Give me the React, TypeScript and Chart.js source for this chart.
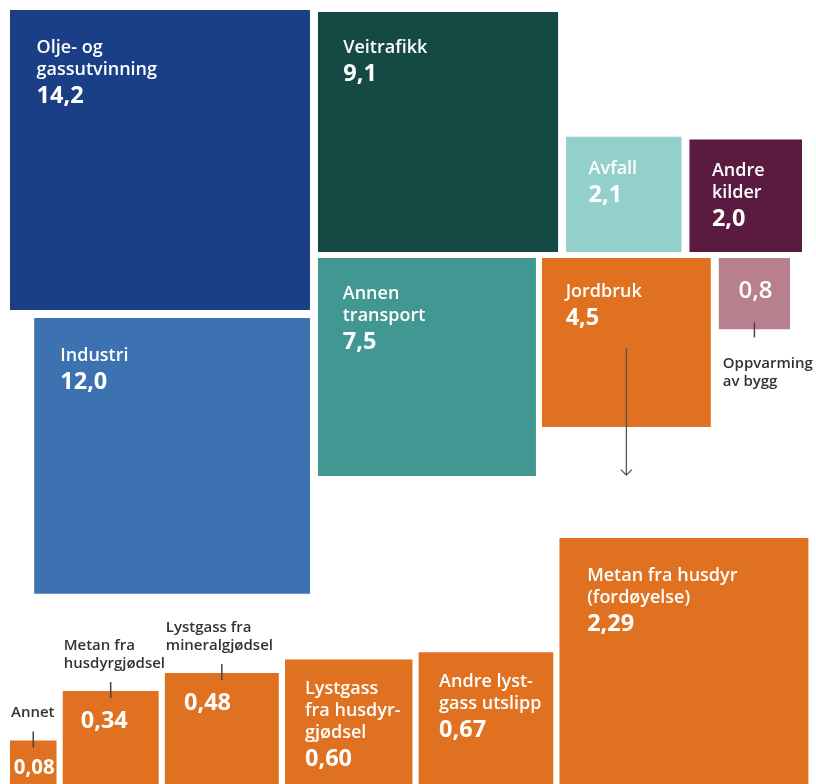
import React, { useEffect, useRef } from "react";
import { Chart, registerables } from "chart.js";

Chart.register(...registerables);

// ---------- data ----------
const sectorNames: string[][] = [
  ["Olje- og", "gassutvinning"],
  ["Industri"],
  ["Veitrafikk"],
  ["Annen", "transport"],
  ["Avfall"],
  ["Andre", "kilder"],
  ["Jordbruk"],
  ["Oppvarming", "av bygg"],
];
const sectorValues: number[] = [14.2, 12.0, 9.1, 7.5, 2.1, 2.0, 4.5, 0.8];

const agriNames: string[][] = [
  ["Annet"],
  ["Metan fra", "husdyrgjødsel"],
  ["Lystgass fra", "mineralgjødsel"],
  ["Lystgass", "fra husdyr-", "gjødsel"],
  ["Andre lyst-", "gass utslipp"],
  ["Metan fra husdyr", "(fordøyelse)"],
];
const agriValues: number[] = [0.08, 0.34, 0.48, 0.6, 0.67, 2.29];

// ---------- styles / layout constants ----------
const W = 816;
const H = 784;
const sectorColors = [
  "#1b3f87",
  "#3c71b2",
  "#154a44",
  "#419893",
  "#93cfcb",
  "#5b1b40",
  "#e07120",
  "#b8808e",
];
const agriColor = "#e07120";
const TOP_K = 79.6; // side per sqrt(unit)
const BOT_K = 164.5;
const GAP = 7;
const BOT_GAP = 6.2;
const BOT_BASE = 787;
const FONT = "'Open Sans', 'Noto Sans', sans-serif";
const DARK = "#333333";
const NAME_FONT = `600 18px ${FONT}`;
const VALUE_FONT = `bold 23.5px ${FONT}`;

type Box = { left: number; top: number; side: number };

function topLayout(values: number[]): Box[] {
  const s = values.map((v) => TOP_K * Math.sqrt(v));
  const b: Box[] = new Array(values.length);
  b[0] = { left: 10, top: 10, side: s[0] };
  b[1] = { left: 10 + s[0] - s[1], top: 10 + s[0] + GAP + 1, side: s[1] };
  b[2] = { left: 10 + s[0] + GAP + 1, top: 12, side: s[2] };
  const row1Bottom = b[2].top + s[2];
  b[4] = { left: b[2].left + s[2] + GAP + 1, top: row1Bottom - s[4], side: s[4] };
  b[5] = { left: b[4].left + s[4] + GAP + 1, top: row1Bottom - s[5], side: s[5] };
  const row2Top = row1Bottom + GAP - 1;
  b[3] = { left: b[2].left, top: row2Top, side: s[3] };
  b[6] = { left: b[3].left + s[3] + GAP - 1, top: row2Top, side: s[6] };
  b[7] = { left: b[6].left + s[6] + GAP + 1, top: row2Top, side: s[7] };
  return b;
}

function bottomLayout(values: number[]): Box[] {
  let x = 10;
  return values.map((v) => {
    const side = BOT_K * Math.sqrt(v);
    const box = { left: x, top: BOT_BASE - side, side };
    x += side + BOT_GAP;
    return box;
  });
}

const fmt = (v: number, d: number) => v.toFixed(d).replace(".", ",");

export default function App() {
  const ref = useRef<HTMLCanvasElement | null>(null);

  useEffect(() => {
    if (!ref.current) return;
    const topBoxes = topLayout(sectorValues);
    const botBoxes = bottomLayout(agriValues);

    const toPoints = (boxes: Box[]) =>
      boxes.map((b) => ({ x: b.left + b.side / 2, y: b.top + b.side / 2, s: b.side }));

    const radiusFn = (ctx: any) => {
      const raw = ctx.raw;
      if (!raw) return 0;
      const sc = ctx.chart.scales.x;
      const px = Math.abs(sc.getPixelForValue(raw.s) - sc.getPixelForValue(0));
      return (px / 2) * Math.SQRT2;
    };

    const labelPlugin = {
      id: "squareLabels",
      afterDatasetsDraw(chart: any) {
        const { ctx } = chart;
        const xs = chart.scales.x;
        const ys = chart.scales.y;
        const rect = (b: Box) => {
          const l = xs.getPixelForValue(b.left);
          const r = xs.getPixelForValue(b.left + b.side);
          const t = ys.getPixelForValue(b.top);
          const bt = ys.getPixelForValue(b.top + b.side);
          return { l, r, t, b: bt, s: r - l, cx: (l + r) / 2 };
        };
        ctx.save();
        ctx.textBaseline = "alphabetic";

        const insideLabel = (
          p: any,
          names: string[],
          valueText: string,
          padX: number,
          base1: number,
          lh: number,
          vgap: number
        ) => {
          ctx.fillStyle = "#ffffff";
          ctx.textAlign = "left";
          ctx.font = NAME_FONT;
          let y = p.t + base1;
          names.forEach((n, i) => {
            ctx.fillText(n, p.l + padX, y);
            if (i < names.length - 1) y += lh;
          });
          ctx.font = VALUE_FONT;
          ctx.fillText(valueText, p.l + padX, y + vgap);
        };

        const valueOnly = (p: any, valueText: string, padX: number) => {
          ctx.fillStyle = "#ffffff";
          if (p.s < 80) {
            const fs = Math.min(24, p.s * 0.44);
            ctx.font = `${p.s < 60 ? "bold" : "600"} ${fs}px ${FONT}`;
            ctx.textAlign = "center";
            ctx.fillText(valueText, p.cx + 1, p.t + 20 + 0.28 * p.s);
          } else {
            ctx.font = VALUE_FONT;
            ctx.textAlign = "left";
            ctx.fillText(valueText, p.l + padX, p.t + 37);
          }
        };

        const tick = (x: number, y0: number, y1: number) => {
          ctx.strokeStyle = "#444444";
          ctx.lineWidth = 1.5;
          ctx.beginPath();
          ctx.moveTo(x, y0);
          ctx.lineTo(x, y1);
          ctx.stroke();
        };

        // top section
        topBoxes.forEach((b, i) => {
          const p = rect(b);
          const vt = fmt(sectorValues[i], 1);
          if (p.s >= 100) {
            insideLabel(p, sectorNames[i], vt, 20 + 0.022 * p.s, 33 + 0.035 * p.s, 22, 28);
          } else {
            valueOnly(p, vt, 18);
            tick(p.cx, p.b - 7, p.b + 8);
            ctx.fillStyle = DARK;
            ctx.textAlign = "left";
            ctx.font = `600 15px ${FONT}`;
            sectorNames[i].forEach((n, k) => ctx.fillText(n, p.l + 4, p.b + 39 + k * 18));
          }
        });

        // bottom section
        botBoxes.forEach((b, i) => {
          const p = rect(b);
          const vt = fmt(agriValues[i], 2);
          if (p.s >= 120) {
            insideLabel(p, agriNames[i], vt, 12 + 0.063 * p.s, 25 + 0.073 * p.s, 22, 28);
          } else {
            valueOnly(p, vt, 12 + 0.063 * p.s);
            tick(p.cx, p.t - 9, p.t + 7);
            ctx.fillStyle = DARK;
            ctx.textAlign = "left";
            ctx.font = `600 15px ${FONT}`;
            const lines = agriNames[i];
            const lastBase = p.t - 23;
            lines.forEach((n, k) =>
              ctx.fillText(n, p.l + 1, lastBase - (lines.length - 1 - k) * 18)
            );
          }
        });

        // arrow from Jordbruk to breakdown
        const j = rect(topBoxes[6]);
        const a = rect(topBoxes[3]);
        const ax = j.cx;
        const y0 = j.t + 90;
        const y1 = a.b - 1;
        ctx.strokeStyle = "#555555";
        ctx.lineWidth = 1.3;
        ctx.beginPath();
        ctx.moveTo(ax, y0);
        ctx.lineTo(ax, y1);
        ctx.moveTo(ax - 5.5, y1 - 5.5);
        ctx.lineTo(ax, y1);
        ctx.lineTo(ax + 5.5, y1 - 5.5);
        ctx.stroke();

        ctx.restore();
      },
    };

    const chart = new Chart(ref.current, {
      type: "scatter",
      data: {
        datasets: [
          {
            label: "Sektorer",
            data: toPoints(topBoxes) as any,
            pointStyle: "rect",
            backgroundColor: sectorColors,
            borderWidth: 0,
            pointRadius: radiusFn,
            pointHoverRadius: radiusFn,
            clip: false as any,
          },
          {
            label: "Jordbruk",
            data: toPoints(botBoxes) as any,
            pointStyle: "rect",
            backgroundColor: agriColor,
            borderWidth: 0,
            pointRadius: radiusFn,
            pointHoverRadius: radiusFn,
            clip: false as any,
          },
        ],
      },
      options: {
        animation: false,
        responsive: false,
        events: [],
        layout: { padding: 0 },
        scales: {
          x: { type: "linear", min: 0, max: W, display: false },
          y: { type: "linear", min: 0, max: H, reverse: true, display: false },
        },
        plugins: { legend: { display: false }, tooltip: { enabled: false } },
      },
      plugins: [labelPlugin],
    });
    return () => chart.destroy();
  }, []);

  return (
    <div style={{ position: "absolute", left: 0, top: 0, width: W, height: H, background: "#fff" }}>
      <canvas ref={ref} width={W} height={H} style={{ display: "block" }} />
    </div>
  );
}
